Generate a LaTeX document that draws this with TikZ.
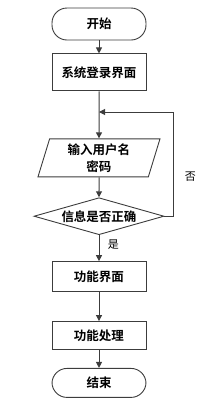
\documentclass[tikz,border=0pt]{standalone}
\usepackage{fontspec}
\newfontfamily\cjk{Noto Sans CJK SC}
\newfontfamily\cjkbold{Noto Sans CJK SC Bold}
\usetikzlibrary{positioning,arrows.meta,shapes.geometric}
\definecolor{linegray}{HTML}{3C3C3C}

\begin{document}
\begin{tikzpicture}[x=1pt,y=1pt,node distance=13pt,
  base/.style={draw=linegray,line width=0.9pt,align=center,font=\cjkbold\fontsize{12.5}{15}\selectfont,inner sep=0pt},
  term/.style={base,rounded corners=15pt,minimum width=94pt,minimum height=32pt},
  box/.style={base,minimum width=94pt},
  io/.style={base,trapezium,trapezium left angle=68,trapezium right angle=112,trapezium stretches body,minimum width=122pt,minimum height=38pt},
  test/.style={base,diamond,aspect=3.5,minimum width=130pt,minimum height=37pt},
  arr/.style={-{Triangle[length=6pt,width=6pt]},line width=1pt,draw=linegray},
  lab/.style={font=\cjk\fontsize{11}{13}\selectfont}]
\useasboundingbox (0,0) rectangle (216,-408);
\node[term] (start) at (99,-24) {开始};
\node[box,minimum height=37pt,below=13pt of start] (login) {系统登录界面};
\node[io,below=47pt of login] (input) {输入用户名\\[2pt]密码};
\node[test,below=20pt of input] (check) {信息是否正确};
\node[box,minimum height=30pt,below=26pt of check] (func) {功能界面};
\node[box,minimum height=28pt,below=29pt of func] (proc) {功能处理};
\node[term,minimum height=29pt,below=18pt of proc] (stop) {结束};
\coordinate (merge) at (99,-112);
\coordinate (corner) at (173,-112);
\draw[arr] (start) -- (login);
\draw[arr] (login) -- (input);
\draw[arr] (input) -- (check);
\draw[arr] (check) -- node[lab,pos=.38,right=5pt]{是} (func);
\draw[arr] (func) -- (proc);
\draw[arr] (proc) -- (stop);
\draw[arr] (check.east) -| node[lab,pos=.69,right=8pt]{否} (corner) -- (merge);
\end{tikzpicture}
\end{document}
